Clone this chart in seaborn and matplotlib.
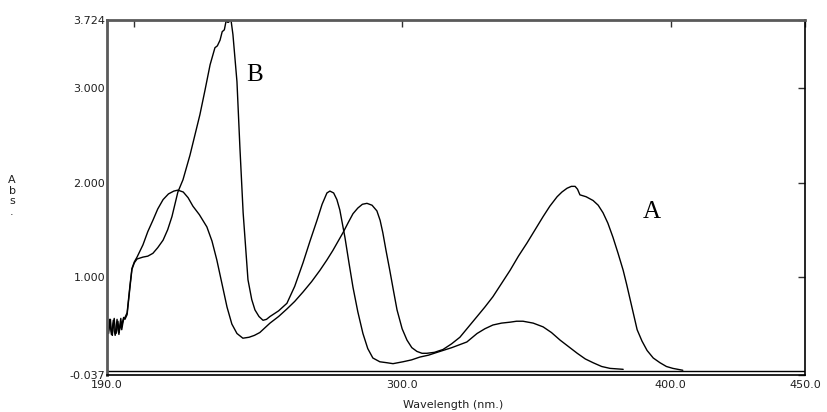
import numpy as np
import pandas as pd
import matplotlib
matplotlib.use("Agg")
import matplotlib.pyplot as plt
import seaborn as sns

# ---- data ----
noise_wl = [190.0, 190.35, 190.7, 191.05, 191.4, 191.75, 192.1, 192.45, 192.8, 193.15,
            193.5, 193.85, 194.2, 194.55, 194.9, 195.25, 195.6, 195.95, 196.3, 196.8]
noise_a = [0.52, 0.45, 0.40, 0.48, 0.55, 0.42, 0.38, 0.50, 0.56, 0.44,
           0.40, 0.47, 0.53, 0.41, 0.45, 0.52, 0.44, 0.50, 0.55, 0.57]
noise_b = [0.48, 0.40, 0.44, 0.55, 0.47, 0.39, 0.45, 0.54, 0.43, 0.38,
           0.46, 0.55, 0.44, 0.39, 0.49, 0.56, 0.47, 0.53, 0.57, 0.55]

a_wl = [197.6, 198.7, 199.4, 200.3, 201.3, 203.5, 205.3, 207.2, 209.0, 211.0,
        213.0, 215.0, 216.5, 218.5, 220.3, 222.1, 224.5, 227.3, 229.2, 231.0,
        232.9, 234.8, 236.6, 238.5, 240.7, 243.0, 245.0, 247.0, 250.8, 254.0,
        257.1, 260.0, 263.1, 266.3, 269.4, 272.0, 274.2, 276.2, 278.0, 280.0,
        281.7, 283.5, 285.2, 286.9, 288.8, 290.6, 291.8, 292.8, 294.0, 295.4,
        296.8, 298.1, 300.0, 301.8, 303.6, 305.5, 307.4, 309.2, 312.0, 315.2,
        318.4, 321.5, 324.7, 327.9, 330.8, 333.8, 337.0, 340.2, 343.3, 346.5,
        349.5, 352.5, 355.0, 357.7, 359.5, 361.4, 363.0, 364.4, 365.3, 366.2,
        368.5, 371.1, 373.0, 374.8, 376.6, 378.5, 380.4, 382.3, 383.6, 384.9,
        386.2, 387.5, 389.3, 391.2, 393.5, 396.0, 398.4, 400.8, 404.5]
a_abs = [0.62, 0.92, 1.09, 1.16, 1.21, 1.34, 1.48, 1.60, 1.72, 1.82,
         1.88, 1.91, 1.92, 1.90, 1.84, 1.75, 1.66, 1.53, 1.38, 1.18,
         0.93, 0.68, 0.50, 0.40, 0.35, 0.36, 0.38, 0.41, 0.51, 0.58,
         0.66, 0.74, 0.84, 0.95, 1.07, 1.18, 1.28, 1.38, 1.47, 1.58,
         1.67, 1.73, 1.77, 1.78, 1.76, 1.70, 1.60, 1.47, 1.28, 1.07,
         0.85, 0.65, 0.45, 0.33, 0.25, 0.21, 0.19, 0.19, 0.20, 0.23,
         0.29, 0.36, 0.47, 0.58, 0.68, 0.79, 0.93, 1.07, 1.22, 1.36,
         1.50, 1.64, 1.75, 1.85, 1.90, 1.94, 1.96, 1.96, 1.93, 1.87,
         1.85, 1.81, 1.76, 1.68, 1.57, 1.42, 1.25, 1.07, 0.92, 0.76,
         0.60, 0.44, 0.32, 0.22, 0.14, 0.09, 0.05, 0.03, 0.01]

b_wl = [197.6, 198.7, 199.4, 200.3, 201.3, 203.5, 205.3, 207.2, 209.0, 211.0,
        212.7, 214.3, 216.5, 218.4, 221.0, 224.7, 226.6, 228.5, 229.3, 230.3,
        231.2, 232.2, 233.0, 233.8, 234.5, 235.0, 235.4, 235.8, 236.3, 237.0,
        238.5, 239.6, 240.8, 242.6, 244.0, 245.2, 246.7, 248.2, 249.5, 250.8,
        254.0, 257.1, 260.0, 263.1, 265.7, 268.3, 270.2, 272.0, 273.1, 274.5,
        275.7, 276.8, 278.7, 280.2, 281.7, 283.5, 285.4, 287.2, 289.1, 291.7,
        294.3, 296.6, 300.3, 303.5, 306.6, 309.8, 313.0, 318.5, 324.1, 327.9,
        330.8, 333.8, 337.0, 340.2, 342.6, 345.0, 348.8, 352.5, 355.6, 358.8,
        362.0, 365.2, 368.2, 371.1, 374.3, 377.4, 382.3]
b_abs = [0.60, 0.90, 1.08, 1.15, 1.19, 1.21, 1.22, 1.25, 1.31, 1.39,
         1.50, 1.64, 1.90, 2.03, 2.29, 2.72, 2.98, 3.25, 3.33, 3.43,
         3.45, 3.51, 3.60, 3.62, 3.72, 3.70, 3.70, 3.72, 3.72, 3.57,
         3.07, 2.37, 1.68, 0.97, 0.76, 0.65, 0.58, 0.54, 0.55, 0.58,
         0.64, 0.72, 0.90, 1.15, 1.38, 1.60, 1.77, 1.89, 1.91, 1.89,
         1.82, 1.71, 1.42, 1.15, 0.89, 0.63, 0.40, 0.24, 0.14, 0.10,
         0.09, 0.08, 0.10, 0.12, 0.15, 0.17, 0.20, 0.25, 0.31, 0.40,
         0.45, 0.49, 0.51, 0.52, 0.53, 0.53, 0.51, 0.47, 0.41, 0.33,
         0.26, 0.19, 0.13, 0.09, 0.05, 0.03, 0.02]

x_ticks = [190, 300, 400, 450]
x_tick_labels = ["190.0", "300.0", "400.0", "450.0"]
y_ticks = [-0.037, 1.0, 2.0, 3.0, 3.724]
y_tick_labels = ["-0.037", "1.000", "2.000", "3.000", "3.724"]
curve_labels = ["A", "B"]

df = pd.concat([
    pd.DataFrame({"wl": noise_wl + a_wl, "abs": noise_a + a_abs, "curve": "A"}),
    pd.DataFrame({"wl": noise_wl + b_wl, "abs": noise_b + b_abs, "curve": "B"}),
], ignore_index=True)
df["order"] = np.arange(len(df))

sns.set_theme(style="white")
plt.rcParams["font.family"] = ["DejaVu Sans"]

fig = plt.figure(figsize=(8.27, 4.12), dpi=100)
ax = fig.add_axes([106.7 / 827, 1 - 374.7 / 412, (805 - 106.7) / 827, (374.7 - 20) / 412])

sns.lineplot(data=df, x="wl", y="abs", hue="curve", units="curve", estimator=None,
             sort=False, palette=["black", "black"], legend=False, linewidth=1.0, ax=ax)
ax.axhline(0.0, color="black", linewidth=1.0)

ax.set_xlim(190, 450)
ax.set_ylim(-0.037, 3.724)
ax.set_xticks(x_ticks)
ax.set_xticklabels(x_tick_labels)
ax.set_xticks([200], minor=True)
ax.set_yticks(y_ticks)
ax.set_yticklabels(y_tick_labels)
ax.tick_params(axis="both", which="both", direction="in", length=5, width=1.0,
               colors="#303030", labelsize=8, labelcolor="#202020")
ax.tick_params(axis="x", which="both", top=True, pad=4)
ax.tick_params(axis="y", which="both", right=True, pad=1)
ax.set_xlabel("")
ax.set_ylabel("")

for side in ["top", "left"]:
    ax.spines[side].set_color("#5a5a5a")
    ax.spines[side].set_linewidth(2.0)
for side in ["right", "bottom"]:
    ax.spines[side].set_color("black")
    ax.spines[side].set_linewidth(1.2)

ax.text(245.2, 3.14, curve_labels[1], fontsize=18, family="Liberation Serif",
        ha="center", va="center", color="black")
ax.text(393.0, 1.69, curve_labels[0], fontsize=18, family="Liberation Serif",
        ha="center", va="center", color="black")

fig.text(403 / 827, 1 - 405 / 412, "Wavelength (nm.)", fontsize=8, color="#202020",
         ha="left", va="center")
fig.text(12 / 827, 1 - 196 / 412, "A\nb\ns\n.", fontsize=8, color="#202020",
         ha="center", va="center", linespacing=1.05)

fig.savefig("out.png", dpi=100)
